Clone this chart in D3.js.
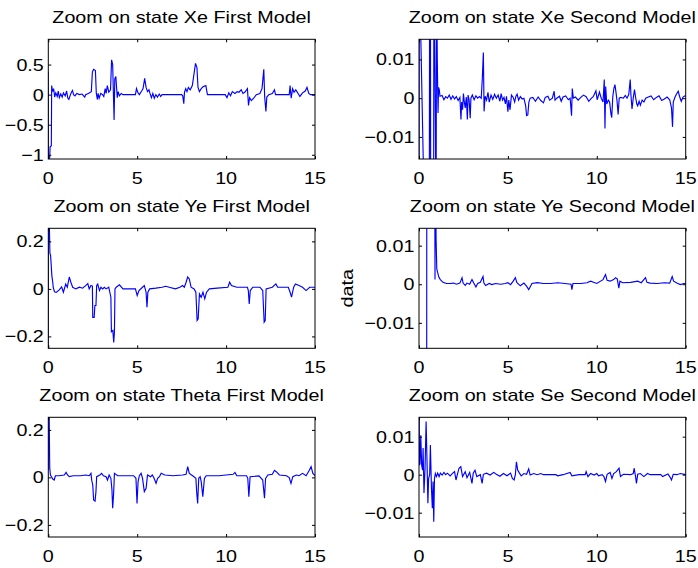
<!DOCTYPE html>
<html>
<head>
<meta charset="utf-8">
<script src="https://cdn.jsdelivr.net/npm/d3@7"></script>
<style>
  html, body { margin: 0; padding: 0; background: #fff; }
  svg text { font-family: "Liberation Sans", Arial, Helvetica, sans-serif; fill: #000; }
</style>
</head>
<body>
<svg id="fig" width="698" height="568"></svg>
<script>
// Time axis ticks shared by all six subplots
const timeTicks = [0, 5, 10, 15];

// Panel titles
const titles = [
  "Zoom on state Xe First Model",
  "Zoom on state Xe Second Model",
  "Zoom on state Ye First Model",
  "Zoom on state Ye Second Model",
  "Zoom on state Theta First Model",
  "Zoom on state Se Second Model"
];

// Y limits and ticks per panel
const yLimits = [
  [-1.07, 0.92], [-0.0157, 0.0152],
  [-0.25, 0.255], [-0.0166, 0.0145],
  [-0.251, 0.253], [-0.0164, 0.0151]
];
const yTickValues = [
  [-1, -0.5, 0, 0.5], [-0.01, 0, 0.01],
  [-0.2, 0, 0.2], [-0.01, 0, 0.01],
  [-0.2, 0, 0.2], [-0.01, 0, 0.01]
];

// Error signals: [time, value]
const xeFirst = [[0,0.38],[0.01,-1.07],[0.08,-1.05],[0.1,-0.87],[0.17,-0.85],[0.19,0.15],[0.24,0.05],[0.3,0.1],[0.36,-0.04],[0.42,0.03],[0.5,-0.03],[0.56,0.06],[0.62,-0.05],[0.7,0.01],[0.78,-0.04],[0.85,0.03],[0.95,-0.02],[1.03,0.06],[1.1,-0.06],[1.16,-0.08],[1.22,-0.02],[1.3,0.04],[1.36,0.07],[1.42,0.0],[1.5,-0.02],[1.6,0.02],[1.75,0.0],[1.9,0.01],[2.05,-0.04],[2.1,0.0],[2.25,0.02],[2.42,0.05],[2.48,0.38],[2.55,0.42],[2.65,0.4],[2.7,0.02],[2.76,-0.08],[2.8,0.02],[2.86,-0.06],[2.95,0.02],[3.05,0.0],[3.12,-0.03],[3.2,0.1],[3.25,0.02],[3.32,0.15],[3.4,0.04],[3.5,0.08],[3.56,0.58],[3.62,0.5],[3.7,-0.42],[3.74,0.26],[3.8,0.3],[3.84,0.12],[3.88,-0.05],[3.93,0.05],[4.0,-0.02],[4.1,0.02],[4.2,0.0],[4.9,0.0],[4.96,0.1],[5.03,0.04],[5.12,0.0],[5.25,0.06],[5.33,0.1],[5.42,0.27],[5.5,0.12],[5.58,0.05],[5.66,0.08],[5.72,0.02],[5.8,-0.05],[5.88,0.02],[5.96,-0.06],[6.05,0.0],[6.14,-0.04],[6.24,0.01],[6.32,-0.03],[6.4,0.0],[7.5,0.0],[7.56,-0.02],[7.62,-0.15],[7.66,0.04],[7.73,0.1],[7.8,0.05],[7.88,0.12],[7.98,0.08],[8.1,0.15],[8.28,0.52],[8.36,0.45],[8.42,0.12],[8.5,0.05],[8.6,0.1],[8.7,0.13],[8.86,0.15],[8.95,0.0],[9.95,0.0],[10.05,-0.05],[10.15,0.03],[10.25,-0.02],[10.35,0.05],[10.5,0.02],[10.62,0.05],[10.72,0.04],[10.85,0.08],[10.95,0.02],[11.05,0.04],[11.2,0.1],[11.26,-0.18],[11.32,-0.05],[11.42,-0.1],[11.55,-0.06],[11.7,0.0],[11.9,0.02],[12.02,0.1],[12.12,0.42],[12.17,-0.04],[12.24,-0.28],[12.29,-0.04],[12.4,0.0],[12.6,0.02],[12.72,0.08],[12.78,0.0],[13.55,0.0],[13.6,0.15],[13.66,-0.06],[13.74,0.1],[13.82,0.04],[13.92,0.08],[14.05,0.02],[14.15,-0.03],[14.3,0.03],[14.45,0.06],[14.55,0.12],[14.65,0.02],[14.75,0.0],[15,0.0]];

const xeSecond = [[0,-0.03],[0.01,0.03],[0.04,0.03],[0.3,-0.03],[0.58,-0.03],[0.6,0.04],[0.64,0.04],[0.66,-0.04],[0.82,-0.04],[0.84,0.04],[0.96,-0.03],[0.99,0.03],[1.03,0.0096],[1.07,-0.0038],[1.1,0.0028],[1.14,0.0022],[1.18,0.0005],[1.3,0.0007],[1.4,-0.0004],[1.5,0.0004],[1.6,0.0],[1.7,0.0008],[1.8,-0.0003],[1.9,0.0006],[2.0,-0.0002],[2.1,0.0004],[2.2,-0.0006],[2.3,0.0002],[2.36,-0.0055],[2.4,-0.001],[2.45,-0.003],[2.5,0.0012],[2.55,-0.001],[2.6,-0.0025],[2.66,0.0003],[2.72,-0.0055],[2.76,0.0008],[2.82,-0.0005],[2.88,-0.0052],[2.92,0.0],[3.0,0.0008],[3.1,-0.0004],[3.2,0.0006],[3.3,0.0],[3.4,0.0004],[3.5,0.0],[3.56,0.005],[3.62,0.0118],[3.66,-0.0034],[3.72,0.0005],[3.8,-0.0005],[3.88,0.0015],[3.95,-0.001],[4.05,0.0008],[4.15,-0.0003],[4.25,0.001],[4.35,0.0],[4.45,0.0008],[4.55,-0.0008],[4.62,0.0012],[4.7,-0.0005],[4.78,0.0002],[4.86,-0.0015],[4.92,0.0005],[5.0,-0.0035],[5.05,-0.0005],[5.12,-0.003],[5.2,0.0008],[5.3,0.0002],[5.38,-0.001],[5.45,0.0005],[5.52,0.001],[5.6,-0.0005],[5.7,0.0004],[5.8,-0.0002],[5.9,0.0],[6.0,-0.002],[6.05,-0.0045],[6.12,-0.0043],[6.18,-0.001],[6.25,0.0],[6.4,0.0002],[6.55,-0.0008],[6.7,0.0003],[6.85,-0.0006],[7.0,-0.0012],[7.1,0.0002],[7.25,0.0005],[7.35,-0.0005],[7.5,0.0],[7.6,0.0018],[7.65,-0.0005],[7.75,0.0],[7.9,0.0005],[8.0,-0.0008],[8.1,0.0003],[8.25,0.0006],[8.4,-0.0004],[8.5,0.0],[8.58,-0.0045],[8.62,0.0025],[8.68,0.0],[8.8,0.0003],[8.95,-0.0005],[9.1,0.0002],[9.25,0.0008],[9.4,0.0004],[9.55,-0.0008],[9.7,0.0],[9.8,0.0004],[9.95,0.0019],[10.02,-0.0004],[10.15,0.0016],[10.25,0.0],[10.35,-0.001],[10.42,0.0048],[10.46,-0.0078],[10.5,0.003],[10.56,-0.0015],[10.65,-0.0005],[10.72,-0.001],[10.8,-0.0042],[10.84,-0.005],[10.9,0.0004],[10.96,0.0025],[11.02,0.0035],[11.08,0.0015],[11.14,-0.0008],[11.2,-0.0042],[11.26,0.0],[11.35,0.0002],[11.5,0.0],[11.6,0.0007],[11.7,0.0],[11.8,0.001],[11.88,0.0048],[11.92,0.0008],[11.98,-0.0028],[12.05,0.0],[12.12,0.0022],[12.18,0.0003],[12.25,-0.0015],[12.3,-0.002],[12.38,-0.0008],[12.45,-0.0018],[12.55,-0.0005],[12.65,-0.001],[12.75,0.0],[12.9,0.0003],[13.05,0.0006],[13.2,-0.0004],[13.35,0.0002],[13.5,0.0006],[13.65,-0.0006],[13.8,-0.0002],[13.95,0.0003],[14.1,-0.0004],[14.2,-0.0025],[14.26,-0.0074],[14.3,-0.001],[14.4,0.0003],[14.5,0.0012],[14.58,0.0018],[14.65,0.0005],[14.75,-0.0008],[14.85,0.0003],[14.95,0.0006],[15,0.0005]];

const yeFirst = [[0,-0.26],[0.01,0.27],[0.06,0.27],[0.09,0.15],[0.13,0.14],[0.2,0.055],[0.24,0.035],[0.28,0.005],[0.35,-0.012],[0.45,-0.015],[0.6,-0.005],[0.75,0.008],[0.85,-0.014],[0.98,0.02],[1.07,0.007],[1.18,0.05],[1.27,0.028],[1.37,0.007],[1.55,0.0],[1.75,0.007],[1.93,0.003],[2.1,0.014],[2.22,0.022],[2.3,0.0],[2.4,0.014],[2.48,0.012],[2.5,-0.12],[2.58,-0.12],[2.62,-0.07],[2.68,-0.07],[2.72,0.014],[2.78,0.02],[2.88,-0.007],[2.96,0.007],[3.06,0.0],[3.15,0.007],[3.25,0.0],[3.4,0.007],[3.52,-0.035],[3.55,-0.18],[3.63,-0.175],[3.68,-0.225],[3.72,-0.18],[3.75,0.0],[3.82,0.007],[4.0,0.017],[4.2,0.0],[4.5,0.0],[4.9,0.0],[5.0,-0.028],[5.1,-0.007],[5.3,0.007],[5.4,0.014],[5.5,-0.014],[5.55,-0.077],[5.6,-0.014],[5.7,0.0],[6.05,0.003],[6.4,0.007],[6.6,0.011],[6.8,0.007],[7.15,0.0],[7.4,0.007],[7.55,0.014],[7.65,0.007],[7.75,0.028],[7.84,0.05],[7.93,0.042],[8.03,0.007],[8.2,0.0],[8.3,-0.014],[8.37,-0.133],[8.43,-0.126],[8.5,-0.021],[8.6,-0.035],[8.7,-0.014],[8.8,-0.042],[8.9,-0.014],[9.06,0.0],[9.5,0.003],[10.1,0.007],[10.2,0.028],[10.3,0.014],[10.6,0.007],[11.2,0.007],[11.25,-0.007],[11.3,-0.063],[11.36,-0.007],[11.5,0.007],[11.9,0.007],[12.06,-0.007],[12.14,-0.14],[12.2,-0.133],[12.25,0.0],[12.6,0.007],[12.8,0.021],[12.9,0.007],[13.5,0.007],[13.6,-0.014],[13.68,-0.035],[13.8,0.007],[13.9,0.021],[14.1,0.014],[14.3,0.007],[14.5,-0.007],[14.7,0.007],[15,0.007]];

const yeSecond = [[0,-0.05],[0.43,-0.05],[0.44,0.05],[0.88,0.05],[0.9,0.0012],[0.92,0.04],[0.96,0.012],[1.0,0.004],[1.05,0.003],[1.12,0.0018],[1.2,0.0012],[1.35,0.0005],[1.55,0.0002],[1.75,0.0002],[1.95,0.0003],[2.1,0.0],[2.3,0.0003],[2.42,0.0017],[2.48,0.0003],[2.6,-0.0003],[2.7,0.0003],[2.85,0.0],[2.98,0.0012],[3.08,0.0003],[3.2,-0.0007],[3.3,0.0002],[3.45,0.0005],[3.6,0.002],[3.65,0.0003],[3.75,-0.0003],[3.95,0.0002],[4.1,-0.0001],[4.3,0.0002],[4.6,0.0],[4.85,0.0002],[5.0,0.0004],[5.15,-0.0001],[5.3,0.0008],[5.42,0.0017],[5.5,0.0005],[5.7,-0.0004],[5.9,0.0003],[6.05,-0.0005],[6.17,-0.0014],[6.25,-0.0007],[6.35,0.0002],[6.65,0.0004],[7.0,0.0002],[7.4,0.0002],[7.8,0.0004],[8.2,0.0002],[8.55,0.0],[8.6,-0.0014],[8.66,0.0002],[9.1,0.0002],[9.45,0.0004],[9.65,0.0008],[10.0,0.0002],[10.35,0.0012],[10.49,0.0025],[10.58,0.001],[10.75,0.0008],[10.95,0.0012],[11.05,0.0017],[11.15,0.0014],[11.24,-0.001],[11.3,0.0008],[11.45,0.0004],[11.9,0.0005],[12.3,0.0008],[12.5,0.0004],[12.74,0.0017],[12.82,0.0005],[13.0,0.0003],[13.4,0.0002],[13.8,0.0004],[14.1,0.0003],[14.24,0.002],[14.32,0.0008],[14.5,0.0003],[14.7,-0.0001],[14.9,0.0002],[15,0.0002]];

const thetaFirst = [[0,0.03],[0.01,0.3],[0.05,0.26],[0.08,0.04],[0.12,0.01],[0.18,0.003],[0.25,-0.007],[0.33,-0.011],[0.4,0.007],[0.6,0.007],[0.9,0.01],[1.0,0.021],[1.08,0.01],[1.18,0.003],[1.4,0.007],[1.8,0.007],[2.1,0.01],[2.3,0.007],[2.4,0.017],[2.44,-0.011],[2.5,-0.032],[2.55,-0.095],[2.63,-0.1],[2.68,-0.06],[2.72,0.003],[2.9,0.01],[3.0,0.017],[3.1,0.007],[3.25,0.003],[3.33,-0.011],[3.42,0.01],[3.52,-0.004],[3.58,-0.053],[3.62,-0.13],[3.67,-0.074],[3.72,0.017],[3.9,0.007],[4.3,0.007],[4.8,0.007],[4.93,-0.004],[4.99,-0.11],[5.05,-0.018],[5.12,0.007],[5.22,0.017],[5.3,-0.004],[5.4,-0.06],[5.5,-0.046],[5.58,0.01],[5.75,0.003],[5.85,0.01],[5.95,-0.004],[6.06,-0.025],[6.15,-0.004],[6.25,0.003],[6.35,0.017],[6.55,0.01],[7.0,0.007],[7.55,0.01],[7.75,0.013],[7.84,0.045],[7.93,0.017],[8.12,0.007],[8.3,-0.004],[8.35,-0.067],[8.4,-0.11],[8.46,-0.004],[8.54,0.003],[8.6,-0.018],[8.69,-0.081],[8.78,-0.004],[8.88,0.007],[9.6,0.007],[10.0,0.01],[10.4,0.013],[10.5,0.021],[10.6,0.007],[11.15,0.007],[11.22,-0.004],[11.28,-0.081],[11.35,0.003],[11.85,0.006],[12.06,-0.011],[12.16,-0.088],[12.22,-0.004],[12.35,0.01],[12.6,0.013],[12.72,0.03],[12.82,0.024],[13.0,0.01],[13.4,0.007],[13.55,-0.001],[13.65,-0.025],[13.75,0.003],[13.95,0.01],[14.1,0.007],[14.3,0.017],[14.5,0.007],[14.68,0.03],[14.78,0.045],[14.88,0.017],[15,0.007]];

const seSecond = [[0,0.02],[0.03,0.0025],[0.06,0.003],[0.1,0.0104],[0.15,0.0025],[0.2,0.0012],[0.23,0.007],[0.28,-0.0048],[0.34,0.0017],[0.4,0.014],[0.45,0.0035],[0.5,-0.0075],[0.54,-0.001],[0.6,0.0],[0.64,0.0078],[0.7,-0.0036],[0.75,-0.0088],[0.79,-0.0018],[0.83,-0.0124],[0.87,-0.001],[0.92,0.0003],[0.98,-0.0005],[1.05,0.0004],[1.13,-0.0005],[1.2,0.0004],[1.3,-0.0001],[1.4,0.0006],[1.5,0.0],[1.6,0.0004],[1.75,-0.0003],[1.9,0.0004],[2.0,0.0008],[2.08,-0.0014],[2.15,-0.0001],[2.25,0.0017],[2.35,0.0021],[2.45,-0.0005],[2.6,0.0008],[2.7,-0.0008],[2.85,0.0006],[2.98,-0.0023],[3.05,0.0004],[3.15,0.0012],[3.25,-0.0005],[3.45,0.0],[3.55,-0.0023],[3.62,0.0001],[3.8,0.0004],[4.0,-0.0001],[4.2,0.0006],[4.35,0.0001],[4.55,-0.0004],[4.75,0.0003],[4.95,-0.0003],[5.15,0.0004],[5.25,-0.001],[5.35,-0.0014],[5.42,0.0],[5.48,0.0034],[5.55,0.0012],[5.65,0.0004],[5.75,-0.0003],[5.9,0.0003],[6.05,0.0001],[6.17,0.0015],[6.25,-0.0001],[6.45,0.0003],[6.65,0.0],[6.85,0.0003],[7.0,0.0],[7.7,0.0],[7.8,-0.0003],[8.1,0.0],[8.5,0.0006],[8.6,-0.0003],[9.0,0.0],[9.35,0.0],[9.4,0.0008],[9.5,-0.0005],[9.65,0.0003],[9.85,-0.0001],[10.0,0.0003],[10.1,-0.0003],[10.3,0.0],[10.4,-0.0005],[10.49,-0.0018],[10.58,0.0001],[10.75,0.0006],[10.85,-0.001],[10.95,0.0003],[11.1,0.0008],[11.25,0.0017],[11.33,-0.0005],[11.5,0.0001],[11.9,0.0],[12.05,0.0003],[12.1,0.0017],[12.18,-0.0005],[12.23,-0.0023],[12.3,0.0001],[12.45,0.0003],[12.65,-0.0005],[12.85,0.0003],[13.0,0.0],[13.6,0.0],[13.7,-0.0005],[14.0,0.0002],[14.1,-0.0005],[14.2,-0.0014],[14.3,0.0001],[14.5,0.0],[14.7,0.0003],[15,0.0]];

const series = [xeFirst, xeSecond, yeFirst, yeSecond, thetaFirst, seSecond];

// Subplot grid geometry (pixels)
const colX = [[48.3, 315], [419, 685.7]];
const rowY = [[39.3, 159], [228.3, 348.3], [417.3, 537]];
const FONT = 17;
const STRETCH = 1.16;   // horizontal text widening

const svg = d3.select("#fig");
const fmt = d3.format("~g");

series.forEach((data, i) => {
  const [x0, x1] = colX[i % 2];
  const [y0, y1] = rowY[Math.floor(i / 2)];
  const x = d3.scaleLinear().domain([0, 15]).range([x0, x1]);
  const y = d3.scaleLinear().domain(yLimits[i]).range([y1, y0]);
  const g = svg.append("g");

  const clipId = "clip" + i;
  g.append("clipPath").attr("id", clipId)
    .append("rect").attr("x", x0).attr("y", y0).attr("width", x1 - x0).attr("height", y1 - y0);

  g.append("path")
    .datum(data)
    .attr("clip-path", `url(#${clipId})`)
    .attr("fill", "none")
    .attr("stroke", "#0000ff")
    .attr("stroke-width", 1.15)
    .attr("d", d3.line().x(d => x(d[0])).y(d => y(d[1])));

  // Inward ticks on all four sides, labels on bottom and left
  const tick = 3;
  const axB = g.append("g").attr("transform", `translate(0,${y1})`)
    .call(d3.axisBottom(x).tickValues(timeTicks).tickSizeInner(-tick).tickSizeOuter(0).tickFormat(""));
  const axT = g.append("g").attr("transform", `translate(0,${y0})`)
    .call(d3.axisTop(x).tickValues(timeTicks).tickSizeInner(-tick).tickSizeOuter(0).tickFormat(""));
  const axL = g.append("g").attr("transform", `translate(${x0},0)`)
    .call(d3.axisLeft(y).tickValues(yTickValues[i]).tickSizeInner(-tick).tickSizeOuter(0).tickFormat(""));
  const axR = g.append("g").attr("transform", `translate(${x1},0)`)
    .call(d3.axisRight(y).tickValues(yTickValues[i]).tickSizeInner(-tick).tickSizeOuter(0).tickFormat(""));
  [axB, axT, axL, axR].forEach(a => {
    a.select(".domain").remove();
    a.selectAll(".tick line").attr("stroke", "#000").attr("stroke-width", 1);
  });

  g.append("rect")
    .attr("x", x0).attr("y", y0).attr("width", x1 - x0).attr("height", y1 - y0)
    .attr("fill", "none").attr("stroke", "#000").attr("stroke-width", 1);

  // Tick labels
  timeTicks.forEach(t => {
    g.append("text")
      .attr("transform", `translate(${x(t)},${y1 + 18.5}) scale(${STRETCH},1)`)
      .attr("text-anchor", "middle").attr("dominant-baseline", "central")
      .attr("font-size", FONT).text(fmt(t));
  });
  yTickValues[i].forEach(v => {
    g.append("text")
      .attr("transform", `translate(${x0 - 4.5},${y(v)}) scale(${STRETCH},1)`)
      .attr("text-anchor", "end").attr("dominant-baseline", "central")
      .attr("font-size", FONT).text(fmt(v));
  });

  // Title
  g.append("text")
    .attr("transform", `translate(${(x0 + x1) / 2},${y0 - 22.5}) scale(${STRETCH},1)`)
    .attr("text-anchor", "middle").attr("dominant-baseline", "central")
    .attr("font-size", FONT).text(titles[i]);

  if (i === 3) {
    g.append("text")
      .attr("transform", `translate(347,${(y0 + y1) / 2}) rotate(-90) scale(${STRETCH},1)`)
      .attr("text-anchor", "middle").attr("dominant-baseline", "central")
      .attr("font-size", FONT).text("data");
  }
});
</script>
</body>
</html>
